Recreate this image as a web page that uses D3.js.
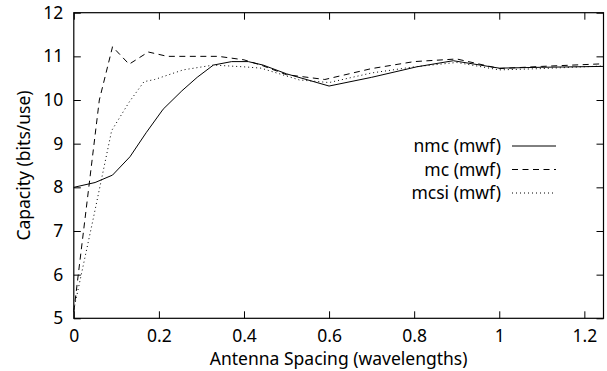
<!DOCTYPE html>
<html>
<head>
<meta charset="utf-8">
<script src="https://cdn.jsdelivr.net/npm/d3@7"></script>
<style>
  body { margin: 0; background: #fff; }
  text { font-family: "Noto Sans", sans-serif; fill: #000; }
</style>
</head>
<body>
<div id="chart"></div>
<script>
const w = 607,
      h = 371;
const margin = {left: 73.8, right: 3.5, top: 12.7, bottom: 52.7};
const fontSize = "17.5px";

// series values
const nmcX  = [0, 0.05, 0.091, 0.132, 0.17, 0.21, 0.254, 0.29, 0.328, 0.371, 0.41, 0.445, 0.5, 0.6, 0.7, 0.806, 0.892, 1.0, 1.1, 1.245];
const nmcY  = [8.0, 8.11, 8.28, 8.7, 9.25, 9.79, 10.21, 10.52, 10.8, 10.88, 10.88, 10.8, 10.6, 10.32, 10.52, 10.76, 10.9, 10.73, 10.75, 10.77];
const mcX   = [0, 0.06, 0.091, 0.13, 0.175, 0.22, 0.34, 0.4, 0.44, 0.5, 0.59, 0.7, 0.8, 0.9, 1.0, 1.1, 1.245];
const mcY   = [5.15, 10.0, 11.22, 10.82, 11.1, 11.0, 11.0, 10.92, 10.8, 10.58, 10.47, 10.72, 10.88, 10.94, 10.72, 10.77, 10.83];
const mcsiX = [0, 0.045, 0.089, 0.13, 0.165, 0.19, 0.257, 0.328, 0.4, 0.44, 0.53, 0.6, 0.7, 0.8, 0.9, 1.0, 1.1, 1.245];
const mcsiY = [5.2, 7.25, 9.3, 9.95, 10.42, 10.47, 10.69, 10.8, 10.76, 10.73, 10.46, 10.4, 10.62, 10.76, 10.86, 10.69, 10.72, 10.78];

const seriesNames = ["nmc (mwf)", "mc (mwf)", "mcsi (mwf)"];
const dashes = [null, "6,4.5", "1,3"];
const xTicks = [0, 0.2, 0.4, 0.6, 0.8, 1, 1.2];
const yTicks = [5, 6, 7, 8, 9, 10, 11, 12];

const series = [
  nmcX.map((x, i) => [x, nmcY[i]]),
  mcX.map((x, i) => [x, mcY[i]]),
  mcsiX.map((x, i) => [x, mcsiY[i]])
];

const svg = d3.select("#chart").append("svg")
              .attr("width", w)
              .attr("height", h);

const x = d3.scaleLinear().domain([0, 1.245]).range([margin.left, w - margin.right]);
const y = d3.scaleLinear().domain([5, 12]).range([h - margin.bottom, margin.top]);

const tick = 7;
const fmt = d => d3.format("~g")(d);

// axes, ticks pointing inward on all four sides
svg.append("g").attr("transform", `translate(0,${y(5)})`)
   .call(d3.axisBottom(x).tickValues(xTicks).tickSize(-tick).tickPadding(11.3).tickFormat(fmt));
svg.append("g").attr("transform", `translate(0,${y(12)})`)
   .call(d3.axisTop(x).tickValues(xTicks).tickSize(-tick).tickFormat(""));
svg.append("g").attr("transform", `translate(${x(0)},0)`)
   .call(d3.axisLeft(y).tickValues(yTicks).tickSize(-tick).tickPadding(10.5).tickFormat(fmt));
svg.append("g").attr("transform", `translate(${x(1.245)},0)`)
   .call(d3.axisRight(y).tickValues(yTicks).tickSize(-tick).tickFormat(""));

svg.selectAll(".domain").remove();
svg.selectAll(".tick line").attr("stroke", "#000");
svg.selectAll(".tick text").style("font-size", fontSize).style("font-family", "'Noto Sans', sans-serif");

svg.append("rect")
   .attr("x", x(0)).attr("y", y(12))
   .attr("width", x(1.245) - x(0)).attr("height", y(5) - y(12))
   .attr("fill", "none").attr("stroke", "#000").attr("stroke-width", 1.2);

// curves
const line = d3.line().x(d => x(d[0])).y(d => y(d[1]));
svg.selectAll("path.series")
   .data(series)
   .enter()
   .append("path")
   .attr("class", "series")
   .attr("d", line)
   .attr("fill", "none")
   .attr("stroke", "#000")
   .attr("stroke-width", 1)
   .attr("stroke-dasharray", (d, i) => dashes[i]);

// legend
const legend = svg.append("g").attr("transform", "translate(501,146)");
seriesNames.forEach((name, i) => {
  const g = legend.append("g").attr("transform", `translate(0,${i * 23.5})`);
  g.append("text").attr("x", 0).attr("y", 0).attr("dy", "0.35em")
   .attr("text-anchor", "end").style("font-size", fontSize).text(name);
  g.append("line").attr("x1", 11).attr("x2", 55).attr("y1", 0).attr("y2", 0)
   .attr("stroke", "#000").attr("stroke-width", 1).attr("stroke-dasharray", dashes[i]);
});

// axis titles
svg.append("text")
   .attr("x", (x(0) + x(1.245)) / 2).attr("y", 365)
   .attr("text-anchor", "middle").style("font-size", fontSize)
   .text("Antenna Spacing (wavelengths)");
svg.append("text")
   .attr("transform", `translate(30,${(y(5) + y(12)) / 2}) rotate(-90)`)
   .attr("text-anchor", "middle").style("font-size", fontSize)
   .text("Capacity (bits/use)");
</script>
</body>
</html>
